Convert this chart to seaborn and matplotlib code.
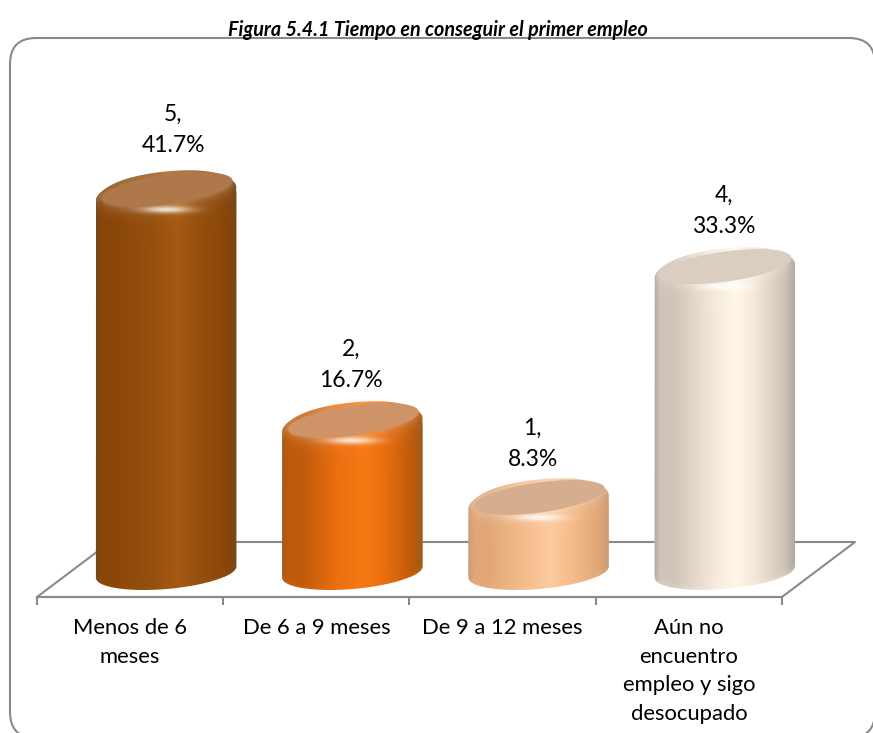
import numpy as np
import matplotlib
matplotlib.use("Agg")
import matplotlib.pyplot as plt
import seaborn as sns
from matplotlib.patches import FancyBboxPatch, PathPatch
from matplotlib.path import Path
from matplotlib.lines import Line2D
from matplotlib.transforms import Affine2D
from matplotlib.colors import to_rgb

categories = ["Menos de 6\nmeses", "De 6 a 9 meses", "De 9 a 12 meses",
              "Aún no\nencuentro\nempleo y sigo\ndesocupado"]
counts = [5, 2, 1, 4]
percents = ["41.7%", "16.7%", "8.3%", "33.3%"]
title = "Figura 5.4.1 Tiempo en conseguir el primer empleo"

base_cols = ["#95500F", "#EC6F10", "#F5BC8C", "#F3E6D8"]
dark_cols = ["#8A4508", "#BE5A0A", "#E0A676", "#D0C4B8"]
edge_cols = ["#70481F", "#9C5A20", "#C49A78", "#B0A89E"]
light_cols = ["#A65A12", "#F47A14", "#FCCBA0", "#FFF8E8"]
face_cols = ["#AE784A", "#CE9468", "#D4AE8E", "#DACEC0"]
label_off = [(7, 62), (-1, 58), (-6, 56), (-1, 58)]

W, H = 873, 733
sns.set_theme(style="white")
plt.rcParams["font.family"] = ["Lato", "DejaVu Sans"]
fig = plt.figure(figsize=(W / 100, H / 100), dpi=100, facecolor="white")
px = Affine2D().scale(1, -1).translate(0, H)
GRAY = "#8A8A8A"

fig.add_artist(FancyBboxPatch((36, 64), 813, 648, boxstyle="round,pad=26,rounding_size=26",
                              transform=px, fc="white", ec=GRAY, lw=1.5, zorder=-2))
fig.add_artist(Line2D((37, 110, 855, 782, 37), (597, 542, 542, 597, 597),
                      transform=px, color=GRAY, lw=1.5, zorder=-1))

fig.text(438 / W, 1 - 30 / H, title, ha="center", va="center", fontsize=14.2,
         fontweight="bold", fontstyle="italic", color="black")

# front axis carrying the category labels
ax_f = fig.add_axes([37 / W, 1 - 597 / H, 745 / W, 100 / H], facecolor="none")
ax_f.set_xlim(-0.5, 3.5)
ax_f.set_yticks([])
for s in ["top", "left", "right"]:
    ax_f.spines[s].set_visible(False)
ax_f.spines["bottom"].set_color(GRAY)
ax_f.spines["bottom"].set_linewidth(1.5)
ax_f.set_xticks(np.arange(-0.5, 4, 1))
ax_f.set_xticklabels([])
ax_f.tick_params(axis="x", which="major", length=6, width=1.5, color=GRAY, bottom=True)
ax_f.set_xticks(np.arange(4), minor=True)
ax_f.set_xticklabels(categories, minor=True, fontsize=15.8, color="black", linespacing=1.55)
ax_f.tick_params(axis="x", which="minor", length=0, pad=15, labelcolor="black", bottom=True)

# bar axes: zero near the mid-line of the floor
ppu = 77
y0 = 577
top_px = 40
low_px = 620
ax = fig.add_axes([73 / W, 1 - low_px / H, 745 / W, (low_px - top_px) / H], facecolor="none")
sns.barplot(x=list(range(4)), y=counts, hue=list(range(4)), palette=base_cols,
            width=141 / 186.25, legend=False, ax=ax, saturation=1, linewidth=0)
ylims = ((y0 - low_px) / ppu, (y0 - top_px) / ppu)
ax.set_xlim(-0.5, 3.5)
ax.set_ylim(*ylims)
ax.axis("off")
to_screen = ax.transData + px.inverted()
to_data = px + ax.transData.inverted()
bars = sorted([p for p in ax.patches if p.get_width() > 0], key=lambda b: b.get_x())


def ell(cx, cy, a, b, th, t):
    th = np.radians(th)
    return cx + a * np.cos(t) * np.cos(th) + b * np.sin(t) * np.sin(th), \
        cy - a * np.cos(t) * np.sin(th) + b * np.sin(t) * np.cos(th)


for i, bar in enumerate(bars):
    (lx, ty), (rx, by) = to_screen.transform([(bar.get_x(), bar.get_height()),
                                              (bar.get_x() + bar.get_width(), 0)])
    by = by - 5  # the round foot sits slightly above the bar's zero line
    cx = (lx + rx) / 2
    a = (rx - lx) / 2
    tc = ty - 2.5
    # hull of the cylinder in screen pixels
    t_top = np.linspace(np.pi, 2 * np.pi, 80)
    t_bot = np.linspace(0, np.pi, 80)
    xs_t, ys_t = ell(cx, tc, a, 18, 6, t_top)
    ys_t = ys_t + 4 * np.cos(t_top) ** 4
    xs_b, ys_b = ell(cx, by, a, 17, 5, t_bot)
    hull = np.column_stack([np.r_[xs_t, xs_b], np.r_[ys_t, ys_b]])
    hull = np.vstack([hull, hull[0]])
    clip = PathPatch(Path(to_data.transform(hull)), transform=ax.transData, fc="none", ec="none")
    ax.add_patch(clip)
    bar.set_clip_path(clip)

    # shaded surface, built per pixel
    x0, x1 = int(lx), int(rx) + 1
    y_a, y_b = int(hull[:, 1].min()) - 1, int(hull[:, 1].max()) + 2
    X, Y = np.meshgrid(np.arange(x0, x1) + .5, np.arange(y_a, y_b) + .5)
    u = np.clip((X - lx) / (rx - lx), 0, 1)
    stops = [0, .04, .14, .4, .58, .72, .92, 1]
    cols = np.array([to_rgb(c) for c in [edge_cols[i], dark_cols[i], dark_cols[i], base_cols[i],
                                         light_cols[i], base_cols[i], dark_cols[i], edge_cols[i]]])
    img = np.dstack([np.interp(u, stops, cols[:, k]) for k in range(3)])
    # soft rim below the top cap, following the cap's front edge
    fx, fy = ell(cx + 1, tc, a - 4.5, 15, 8, np.linspace(0, np.pi, 80))
    front = np.interp(X, fx[::-1], fy[::-1])
    d = np.clip(Y - front, 0, None)
    rim = .2 * np.exp(-d / 6)
    img = img + (1 - img) * rim[..., None]
    # specular spot
    spot = np.exp(-(((X - cx) / 24) ** 2 + ((Y - (tc + 20)) / 3.5) ** 2))
    img = img + (1 - img) * (spot[..., None] * .8)
    # bottom rim
    low = np.interp(X, xs_b[::-1], ys_b[::-1])
    glow = np.exp(-np.clip(low - Y, 0, None) / 3) * .25
    img = np.clip(img + (np.array(to_rgb(light_cols[i])) - img) * glow[..., None], 0, 1)

    (dl, dt), (dr, db) = to_data.transform([(x0, y_a), (x1, y_b)])
    im = ax.imshow(img, extent=(dl, dr, db, dt), aspect="auto", zorder=3, interpolation="bilinear")
    im.set_clip_path(clip)

    # flat top face
    fxs, fys = ell(cx + 1, tc, a - 4.5, 15, 8, np.linspace(0, 2 * np.pi, 120))
    ax.add_patch(PathPatch(Path(to_data.transform(np.column_stack([fxs, fys]))),
                           transform=ax.transData, fc=face_cols[i], ec="none", zorder=4))

    ax.annotate(f"{counts[i]},\n{percents[i]}",
                xy=(bar.get_x() + bar.get_width() / 2, bar.get_height()),
                xycoords="data", xytext=(label_off[i][0] * .72, label_off[i][1] * .72),
                textcoords="offset points", ha="center", va="center",
                fontsize=16.5, color="black", linespacing=1.56, zorder=5, annotation_clip=False)

ax.set_xlim(-0.5, 3.5)
ax.set_ylim(*ylims)
fig.savefig("out.png", dpi=100)
